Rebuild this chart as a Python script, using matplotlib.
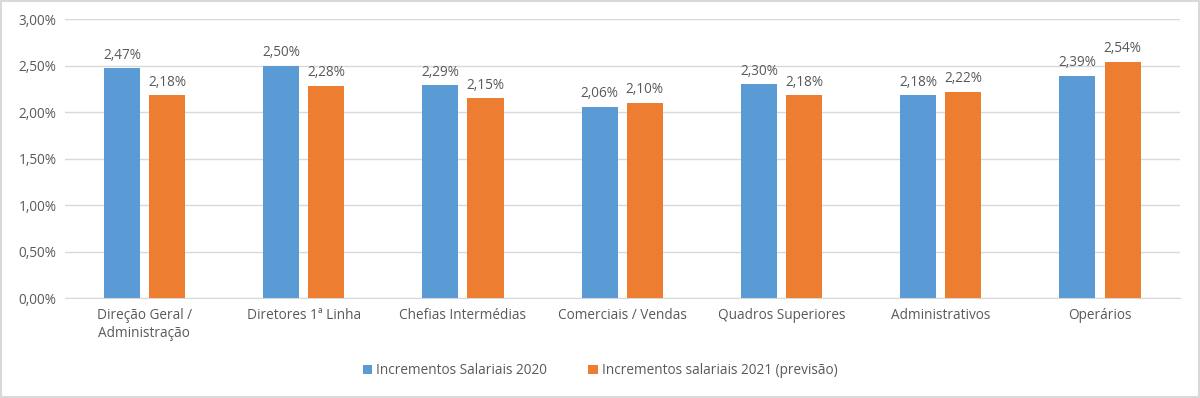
import numpy as np
import matplotlib.pyplot as plt
from matplotlib.patches import Rectangle
from matplotlib.ticker import FuncFormatter

categories = ['Direção Geral /\nAdministração', 'Diretores 1ª Linha', 'Chefias Intermédias',
              'Comerciais / Vendas', 'Quadros Superiores', 'Administrativos', 'Operários']
inc_2020 = [2.47, 2.50, 2.29, 2.06, 2.30, 2.18, 2.39]
inc_2021 = [2.18, 2.28, 2.15, 2.10, 2.18, 2.22, 2.54]
series_names = ['Incrementos Salariais 2020', 'Incrementos salariais 2021 (previsão)']

BLUE = '#5B9BD5'
ORANGE = '#ED7D31'
GRAY = '#595959'

plt.rcParams['font.family'] = ['Open Sans', 'DejaVu Sans']

fig = plt.figure(figsize=(12, 3.98), dpi=100)
ax = fig.add_axes([0.054, 0.251, 0.929, 0.701])

x = np.arange(len(categories))
w = 0.227
off = 0.142
b1 = ax.bar(x - off, inc_2020, w, color=BLUE, label=series_names[0], zorder=3)
b2 = ax.bar(x + off, inc_2021, w, color=ORANGE, label=series_names[1], zorder=3)

fmt = lambda v: '{:.2f}%'.format(v).replace('.', ',')
for bars in (b1, b2):
    for r in bars:
        ax.text(r.get_x() + r.get_width() / 2, r.get_height() + 0.06, fmt(r.get_height()),
                ha='center', va='bottom', fontsize=9.8, color=GRAY)

ax.set_xlim(-0.5, len(categories) - 0.5)
ax.set_ylim(0, 3.0)
ax.set_yticks(np.arange(0, 3.01, 0.5))
ax.yaxis.set_major_formatter(FuncFormatter(lambda v, p: fmt(v)))
ax.set_xticks(x)
ax.set_xticklabels(categories, fontsize=9.8, color=GRAY, linespacing=1.25)
ax.tick_params(axis='y', labelsize=9.8, labelcolor=GRAY, length=0, pad=6)
ax.tick_params(axis='x', length=0, pad=7)
ax.grid(axis='y', color='#D9D9D9', linewidth=1, zorder=0)
for s in ['top', 'right', 'left']:
    ax.spines[s].set_visible(False)
ax.spines['bottom'].set_color('#D9D9D9')

fig.legend(handles=[b1, b2], loc='center', bbox_to_anchor=(0.5, 0.068), ncol=2, frameon=False,
           fontsize=9.8, labelcolor=GRAY, handlelength=0.7, handleheight=0.7,
           handletextpad=0.3, columnspacing=3)

fig.patches.append(Rectangle((0.001, 0.002), 0.998, 0.996, transform=fig.transFigure,
                             fill=False, edgecolor='#D9D9D9', linewidth=1.5))

fig.savefig('out.png', dpi=100)
